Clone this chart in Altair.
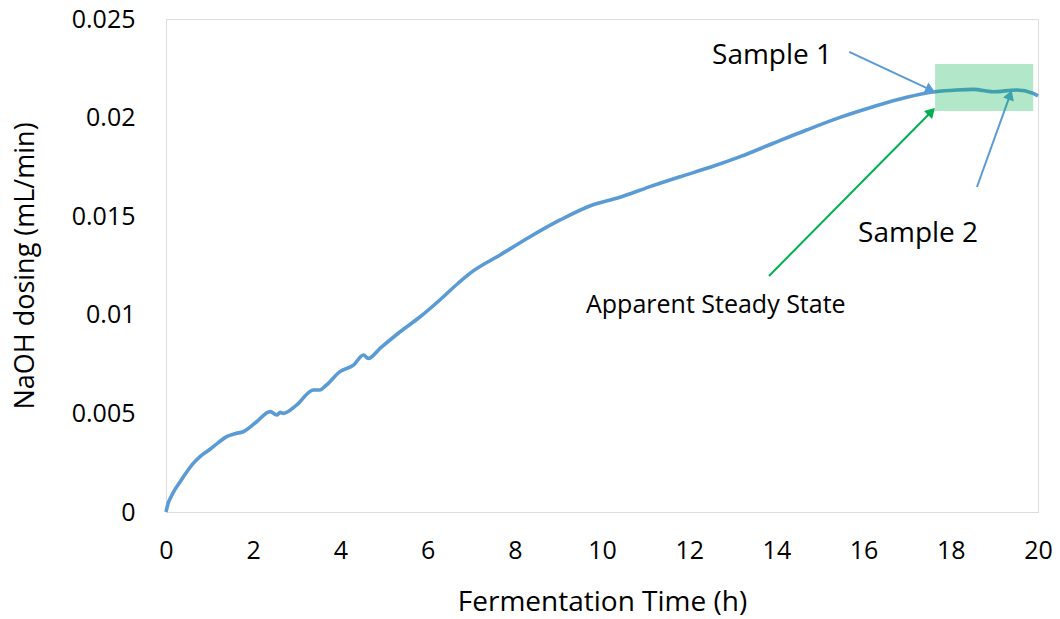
import math
import altair as alt
import pandas as pd

# ---- data ----
time_h = [0.0, 0.05, 0.10, 0.20, 0.32, 0.45, 0.63, 0.80, 1.01, 1.20, 1.39, 1.60, 1.77, 2.08,
          2.39, 2.54, 2.62, 2.69, 3.0, 3.38, 3.53, 3.68, 3.99, 4.30, 4.53, 4.64, 4.91, 5.37,
          5.83, 6.28, 6.70, 6.97, 7.66, 8.35, 9.04, 9.72, 10.41, 11.10, 11.79, 12.48, 13.17,
          13.93, 14.69, 15.46, 16.22, 16.99, 17.64, 18.13, 18.52, 18.97, 19.51, 19.89, 20.0]
naoh = [0.0, 0.00045, 0.0007, 0.00112, 0.00152, 0.00195, 0.00248, 0.00285, 0.00318, 0.00352,
        0.00382, 0.00398, 0.00407, 0.00458, 0.00509, 0.00492, 0.00505, 0.00500, 0.00543,
        0.00619, 0.00619, 0.00644, 0.00712, 0.00745, 0.00796, 0.00779, 0.0083, 0.00914,
        0.0099, 0.01075, 0.0116, 0.0121, 0.01303, 0.01396, 0.01481, 0.01552, 0.01596, 0.0165,
        0.017, 0.01748, 0.01802, 0.0187, 0.01937, 0.02001, 0.02055, 0.02103, 0.02131, 0.0214,
        0.02143, 0.02131, 0.0214, 0.02123, 0.0211]

# steady-state box
box_x = [17.64, 19.89]
box_y = [0.02033, 0.02272]

# annotation arrows: start (x, y) -> end (x, y)
arrow_names = ["Sample 1", "Sample 2", "Steady"]
arrow_x1 = [15.67, 18.60, 13.83]
arrow_y1 = [0.02333, 0.01648, 0.01197]
arrow_x2 = [17.64, 19.40, 17.64]
arrow_y2 = [0.0213, 0.0214, 0.02049]
arrow_colors = ["#5B9BD5", "#5B9BD5", "#00B050"]

# annotation labels
label_text = ["Sample 1", "Sample 2", "Apparent Steady State"]
label_x = [13.9, 17.25, 12.61]
label_y = [0.02312, 0.01410, 0.01050]
label_size = [28, 28, 25]

x_ticks = list(range(0, 21, 2))
y_ticks = [0, 0.005, 0.01, 0.015, 0.02, 0.025]

# ---- layout ----
W, H = 872, 493
X_DOM = [0, 20]
Y_DOM = [0, 0.025]
px_per_x = W / (X_DOM[1] - X_DOM[0])
px_per_y = H / (Y_DOM[1] - Y_DOM[0])
FONT = "Open Sans"

xs = alt.Scale(domain=X_DOM, nice=False, zero=False)
ys = alt.Scale(domain=Y_DOM, nice=False, zero=False)

df = pd.DataFrame({"t": time_h, "v": naoh})

# arrow heads: angle and position slightly back from the tip
HEAD_SIZE = 130
r = math.sqrt(HEAD_SIZE) / 2
rows = []
for n, x1, y1, x2, y2, c in zip(arrow_names, arrow_x1, arrow_y1, arrow_x2, arrow_y2, arrow_colors):
    dx = (x2 - x1) * px_per_x
    dy = -(y2 - y1) * px_per_y
    L = math.hypot(dx, dy)
    ang = math.degrees(math.atan2(dx, -dy)) % 360
    back = 0.9 * r
    hx = x2 - (dx / L) * back / px_per_x
    hy = y2 + (dy / L) * back / px_per_y
    sx2 = x2 - (dx / L) * (1.5 * r) / px_per_x
    sy2 = y2 + (dy / L) * (1.5 * r) / px_per_y
    rows.append({"name": n, "x1": x1, "y1": y1, "x2": sx2, "y2": sy2,
                 "hx": hx, "hy": hy, "ang": ang, "color": c})
adf = pd.DataFrame(rows)

line = alt.Chart(df).mark_line(color="#5B9BD5", strokeWidth=3.6,
                               interpolate="monotone").encode(
    x=alt.X("t:Q", scale=xs,
            axis=alt.Axis(values=x_ticks, title="Fermentation Time (h)", grid=False,
                          ticks=False, tickSize=0, domain=False, labelFont=FONT,
                          labelFontSize=25, labelColor="black", labelPadding=26,
                          labelFlush=False,
                          titleFont=FONT, titleFontSize=28, titleFontWeight="normal",
                          titleColor="black", titleX=W / 2, titleY=90,
                          titleBaseline="middle")),
    y=alt.Y("v:Q", scale=ys,
            axis=alt.Axis(values=y_ticks, format="~g", title="NaOH dosing (mL/min)",
                          grid=False, ticks=False, tickSize=0, domain=False,
                          labelFont=FONT, labelFontSize=25, labelColor="black",
                          labelPadding=31, labelFlush=False, titleFont=FONT, titleFontSize=27,
                          titleFontWeight="normal", titleColor="black",
                          titleX=-141, titleY=H / 2, titleBaseline="middle",
                          titleAngle=270)),
)

shafts = alt.Chart(adf).mark_rule(strokeWidth=2).encode(
    x=alt.X("x1:Q", scale=xs), y=alt.Y("y1:Q", scale=ys),
    x2="x2:Q", y2="y2:Q",
    color=alt.Color("color:N", scale=None),
)

heads = alt.Chart(adf).mark_point(shape="triangle-up", filled=True, opacity=1,
                                  size=HEAD_SIZE).encode(
    x=alt.X("hx:Q", scale=xs), y=alt.Y("hy:Q", scale=ys),
    angle=alt.Angle("ang:Q", scale=None),
    color=alt.Color("color:N", scale=None),
)

box = alt.Chart(pd.DataFrame({"x": [box_x[0]], "x2": [box_x[1]],
                              "y": [box_y[0]], "y2": [box_y[1]]})).mark_rect(
    color="#00B050", opacity=0.3).encode(
    x=alt.X("x:Q", scale=xs), x2="x2:Q",
    y=alt.Y("y:Q", scale=ys), y2="y2:Q",
)

labels = alt.Chart(pd.DataFrame({"text": label_text, "x": label_x, "y": label_y,
                                 "size": label_size})).mark_text(
    font=FONT, color="black", align="center", baseline="middle").encode(
    x=alt.X("x:Q", scale=xs), y=alt.Y("y:Q", scale=ys),
    text="text:N", size=alt.Size("size:Q", scale=None),
)

chart = alt.layer(line, shafts, heads, box, labels).properties(
    width=W, height=H,
    autosize=alt.AutoSizeParams(type="none"),
    padding={"left": 166, "top": 19, "right": 22, "bottom": 107},
).configure_view(stroke="black", strokeWidth=2.5).configure(background="white")

chart.save("out.html", embed_options={"renderer": "svg", "actions": False})
